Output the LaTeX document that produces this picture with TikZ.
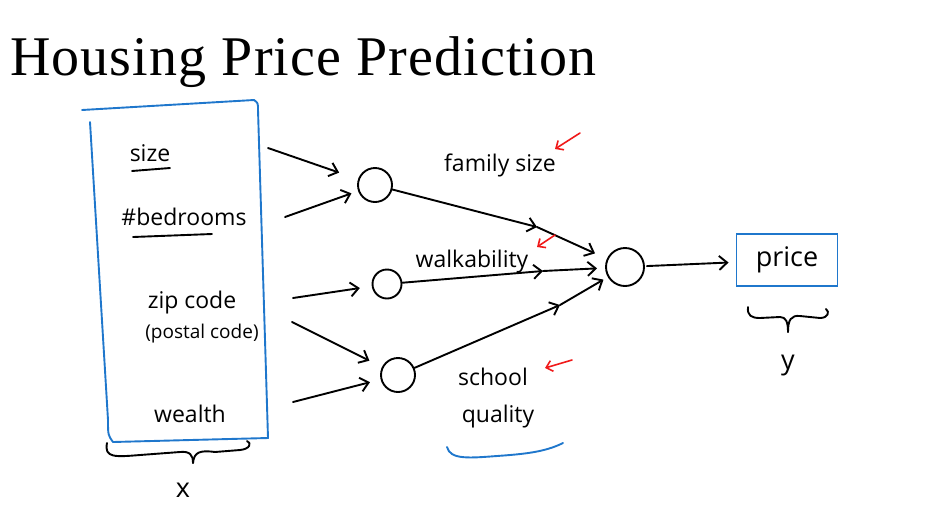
\documentclass[tikz,border=0pt]{standalone}
\usepackage{fontspec}
\setmainfont{Liberation Serif}
\newfontfamily\hand{Open Sans}
\usetikzlibrary{arrows.meta}
\definecolor{penblue}{RGB}{31,119,204}
\definecolor{penred}{RGB}{240,25,25}
\begin{document}
\begin{tikzpicture}[x=1pt,y=-1pt,
  ink/.style={line width=1.9pt, line cap=round, line join=round},
  arr/.style={ink,-{Straight Barb[length=8pt,width=14pt,line width=1.9pt]}},
  redarr/.style={line width=1.6pt, line cap=round, penred,-{Straight Barb[length=6pt,width=11pt,line width=1.6pt]}},
  hw/.style={font=\hand\fontsize{23}{25}\selectfont, inner sep=0pt},
  hwl/.style={font=\hand\fontsize{27}{29}\selectfont, inner sep=0pt},
  hws/.style={font=\hand\fontsize{19}{21}\selectfont, inner sep=0pt},
  neuron/.style={circle, draw, ink, inner sep=0pt},
  blueink/.style={line width=1.9pt, penblue, line cap=round, line join=round}]
\useasboundingbox (0,0) rectangle (936,523);

% title
\node[anchor=base west, inner sep=0pt, font=\fontsize{56}{60}\selectfont\addfontfeatures{LetterSpace=2}] (title) at (10,75) {Housing Price Prediction};

% input box
\draw[blueink] (82,110) -- (254,100) .. controls (258,103) .. (258,110) -- (268,438) -- (113,442) .. controls (108,435) .. (108,420) -- (90,122);

% inputs
\node[hw] (size) at (150,153) {size};
\node[hw] (bed) at (184,217) {\#bedrooms};
\node[hw] (zip) at (192,303) {zip code};
\node[hws] (postal) at (202,334) {(postal code)};
\node[hw] (wealth) at (190,414) {wealth};
\draw[ink] (132,171) -- (170,168);
\draw[ink] (133,237) -- (212,234);

% brace x
\draw[ink] (107,443) .. controls (104,458) and (115,457) .. (140,455) -- (180,452) .. controls (190,451) and (193,455) .. (193,463);
\draw[ink] (193,463) .. controls (194,452) and (200,450) .. (215,452) -- (240,450) .. controls (250,449) and (252,443) .. (247,441);
\node[hwl] (xl) at (183,490) {x};

% neurons
\node[neuron, minimum width=34pt, minimum height=34pt] (n1) at (375,185) {};
\node[neuron, minimum size=29pt] (n2) at (387,284) {};
\node[neuron, minimum size=34pt] (n3) at (398,375) {};
\node[neuron, minimum size=38pt] (n4) at (625,267) {};

% start points
\coordinate (s1) at (268,148);
\coordinate (s2) at (285,217);
\coordinate (s3) at (293,298);
\coordinate (s4) at (292,322);
\coordinate (s5) at (293,402);
\draw[arr, shorten >=20pt] (s1) -- (n1);
\draw[arr, shorten >=7pt] (s2) -- (n1);
\draw[arr, shorten >=12pt] (s3) -- (n2);
\draw[arr, shorten >=14pt] (s4) -- (n3);
\draw[arr, shorten >=11pt] (s5) -- (n3);

% hidden -> output
\coordinate (m1) at (537,227);
\coordinate (m2) at (543,271);
\coordinate (m3) at (560,305);
\draw[arr] (n1) -- (m1);
\draw[arr, shorten >=13pt] (m1) -- (n4);
\draw[arr] (n2) -- (m2);
\draw[arr, shorten >=8pt] (m2) -- (n4);
\draw[arr] (n3) -- (m3);
\draw[arr, shorten >=5pt] (m3) -- (n4);

% labels
\node[hw] (fam) at (500,165) {family size};
\node[hw] (walk) at (472,262) {walkability};
\node[hw] (school) at (493,377) {school};
\node[hw] (qual) at (498,417) {quality};
\draw[blueink] (447,447) .. controls (450,460) and (470,458) .. (497,456) .. controls (525,454) and (545,452) .. (563,443);

% red arrows
\coordinate (r1a) at (580,133); \coordinate (r1b) at (555,149);
\coordinate (r2a) at (555,235); \coordinate (r2b) at (537,247);
\coordinate (r3a) at (572,360); \coordinate (r3b) at (545,368);
\draw[redarr] (r1a) -- (r1b);
\draw[redarr] (r2a) -- (r2b);
\draw[redarr] (r3a) -- (r3b);

% output
\node[hwl, draw=penblue, line width=1.9pt, minimum width=101pt, minimum height=52pt] (price) at (787,260) {price};
\draw[arr, shorten <=2pt, shorten >=7pt] (n4) -- (price);
\draw[ink] (748,307) .. controls (747,316) and (752,318) .. (760,318) -- (780,317) .. controls (786,317) and (788,322) .. (788,332);
\draw[ink] (788,332) .. controls (788,320) and (791,315) .. (800,316) -- (820,318) .. controls (828,318) and (830,312) .. (826,309);
\node[hwl] (yl) at (788,366) {y};
\end{tikzpicture}
\end{document}
